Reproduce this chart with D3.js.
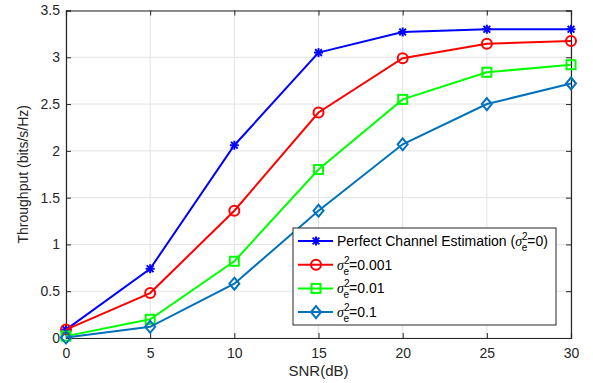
<!DOCTYPE html>
<html><head><meta charset="utf-8">
<script src="https://cdn.jsdelivr.net/npm/d3@7"></script>
<style>body{margin:0;background:#fff}svg{display:block;font-family:"Liberation Sans",Arial,sans-serif}</style>
</head><body><svg id="c" width="593" height="383"></svg>
<script>
const snr = [0, 5, 10, 15, 20, 25, 30];
const perfect = [0.09, 0.74, 2.06, 3.05, 3.27, 3.30, 3.30];
const e001 = [0.09, 0.48, 1.36, 2.41, 2.99, 3.145, 3.175];
const e01 = [0.02, 0.20, 0.82, 1.80, 2.55, 2.84, 2.92];
const e1 = [0.005, 0.12, 0.58, 1.36, 2.07, 2.50, 2.72];
const xTicks = [0, 5, 10, 15, 20, 25, 30];
const yTicks = [0, 0.5, 1, 1.5, 2, 2.5, 3, 3.5];
const seriesNames = ["Perfect Channel Estimation (", "", "", ""];
const seriesVals = ["0", "0.001", "0.01", "0.1"];

const series = [
  {vals: perfect, color: "#0000ff", marker: "star"},
  {vals: e001, color: "#ff0000", marker: "circle"},
  {vals: e01, color: "#00ff00", marker: "square"},
  {vals: e1, color: "#0072bd", marker: "diamond"}
];

const svg = d3.select("#c");
const L = 66, R = 571, T = 10.5, B = 338;
const x = d3.scaleLinear().domain([0, 30]).range([L, R]);
const y = d3.scaleLinear().domain([0, 3.5]).range([B, T]);

// grid
const g = svg.append("g");
g.selectAll(".gx").data(xTicks).join("line").attr("x1", d => x(d)).attr("x2", d => x(d))
  .attr("y1", T).attr("y2", B).attr("stroke", "#e3e3e3").attr("stroke-width", 1);
g.selectAll(".gy").data(yTicks).join("line").attr("y1", d => y(d)).attr("y2", d => y(d))
  .attr("x1", L).attr("x2", R).attr("stroke", "#e3e3e3").attr("stroke-width", 1);

// axes
const axB = d3.axisBottom(x).tickValues(xTicks).tickSize(-5).tickPadding(10).tickFormat(d3.format("d"));
const axT = d3.axisTop(x).tickValues(xTicks).tickSize(-5).tickFormat("");
const axL = d3.axisLeft(y).tickValues(yTicks).tickSize(-5).tickPadding(6).tickFormat(d => d);
const axR = d3.axisRight(y).tickValues(yTicks).tickSize(-5).tickFormat("");
function style(sel){
  sel.select(".domain").attr("stroke", "#262626").attr("stroke-width", 1.2);
  sel.selectAll(".tick line").attr("stroke", "#262626");
  sel.selectAll("text").attr("fill", "#262626").style("font-size", "14px").style("font-family", "Liberation Sans, Arial, sans-serif");
}
svg.append("g").attr("transform", `translate(0,${B})`).call(axB).call(style);
svg.append("g").attr("transform", `translate(0,${T})`).call(axT).call(style);
svg.append("g").attr("transform", `translate(0,0)`).attr("transform", `translate(${L},0)`).call(axL).call(style);
svg.append("g").attr("transform", `translate(${R},0)`).call(axR).call(style);

// labels
svg.append("text").attr("x", (L + R) / 2).attr("y", 376).attr("text-anchor", "middle")
  .attr("fill", "#262626").style("font-size", "15px").text("SNR(dB)");
svg.append("text").attr("transform", `translate(28,${(T + B) / 2}) rotate(-90)`).attr("text-anchor", "middle")
  .attr("fill", "#262626").style("font-size", "14px").text("Throughput (bits/s/Hz)");

function drawMarker(sel, type, color, cx, cy) {
  const m = sel.append("g").attr("transform", `translate(${cx},${cy})`);
  if (type === "star") {
    const r = 4.5;
    [[-r,0,r,0],[0,-r,0,r],[-r*0.75,-r*0.75,r*0.75,r*0.75],[-r*0.75,r*0.75,r*0.75,-r*0.75]].forEach(a =>
      m.append("line").attr("x1", a[0]).attr("y1", a[1]).attr("x2", a[2]).attr("y2", a[3])
        .attr("stroke", color).attr("stroke-width", 2));
  } else if (type === "circle") {
    m.append("circle").attr("r", 5).attr("fill", "none").attr("stroke", color).attr("stroke-width", 2);
  } else if (type === "square") {
    m.append("rect").attr("x", -4.5).attr("y", -4.5).attr("width", 9).attr("height", 9)
      .attr("fill", "none").attr("stroke", color).attr("stroke-width", 2);
  } else {
    m.append("path").attr("d", "M0,-6L5,0L0,6L-5,0Z").attr("fill", "none").attr("stroke", color).attr("stroke-width", 2);
  }
}

const line = d3.line().x((d, i) => x(snr[i])).y(d => y(d));
series.forEach(s => {
  svg.append("path").attr("d", line(s.vals)).attr("fill", "none").attr("stroke", s.color).attr("stroke-width", 2);
  const mg = svg.append("g");
  s.vals.forEach((v, i) => drawMarker(mg, s.marker, s.color, x(snr[i]), y(v)));
});

// legend
const lx = 293, ly = 228, lw = 263, lh = 97;
svg.append("rect").attr("x", lx).attr("y", ly).attr("width", lw).attr("height", lh)
  .attr("fill", "#fff").attr("stroke", "#262626").attr("stroke-width", 1);
series.forEach((s, i) => {
  const cy = ly + 13 + i * 23.7;
  svg.append("line").attr("x1", lx + 5).attr("x2", lx + 40).attr("y1", cy).attr("y2", cy)
    .attr("stroke", s.color).attr("stroke-width", 2);
  drawMarker(svg, s.marker, s.color, lx + 23, cy);
  const t = svg.append("text").attr("x", lx + 44).attr("y", cy + 5).attr("fill", "#000").style("font-size", "14px");
  t.append("tspan").text(seriesNames[i]);
  t.append("tspan").style("font-family", "Liberation Serif, serif").style("font-style", "italic").text("σ");
  t.append("tspan").attr("dy", -6).style("font-size", "10px").text("2");
  t.append("tspan").attr("dx", -6).attr("dy", 11).style("font-size", "10px").text("e");
  t.append("tspan").attr("dy", -5).text("=" + seriesVals[i] + (i === 0 ? ")" : ""));
});
</script></body></html>
